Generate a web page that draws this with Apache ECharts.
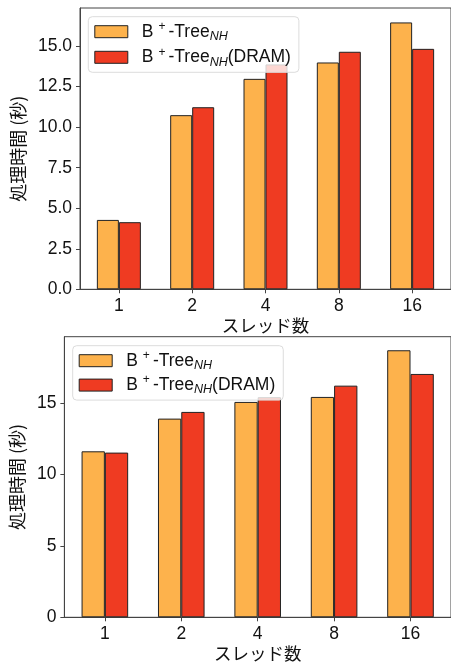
<!DOCTYPE html>
<html>
<head>
<meta charset="utf-8">
<script src="https://cdn.jsdelivr.net/npm/echarts@6/dist/echarts.min.js"></script>
<style>
html,body{margin:0;padding:0;background:#fff;}
#main{width:451px;height:664px;}
</style>
</head>
<body>
<div id="main"></div>
<script>
// ---- data ----
const categories = ['1', '2', '4', '8', '16'];
const seriesNames = ['B+-Tree_NH', 'B+-Tree_NH(DRAM)'];
const topNH = [4.28, 10.74, 12.98, 13.99, 16.46];
const topDRAM = [4.14, 11.23, 13.87, 14.65, 14.83];
const bottomNH = [11.63, 13.92, 15.09, 15.44, 18.71];
const bottomDRAM = [11.54, 14.39, 15.42, 16.23, 17.05];
const topYTicks = [0, 2.5, 5, 7.5, 10, 12.5, 15];
const bottomYTicks = [0, 5, 10, 15];
const yTitle = '処理時間 (秒)';
const xTitle = 'スレッド数';

const FONT = '"Liberation Sans", "Noto Sans CJK JP", sans-serif';
const CJK = '"Noto Sans CJK JP", sans-serif';
const ORANGE = '#FDB24C';
const RED = '#EF3B22';
const EDGE = '#222';
const SPINE = '#444';
const catIdx = categories.map((c, i) => i);

function pairs(vals) { return vals.map((v, i) => [i, v]); }

const rich = {
  n: {fontFamily: FONT, fontSize: 17.5, color: '#111', lineHeight: 22},
  sup: {fontFamily: FONT, fontSize: 12, color: '#111', lineHeight: 12, verticalAlign: 'top', padding: [0, 3, 0, 5]},
  sub: {fontFamily: FONT, fontSize: 12.5, fontStyle: 'italic', color: '#111', lineHeight: 12, verticalAlign: 'bottom'}
};
function legendFmt(name) {
  if (name === seriesNames[0]) return '{n|B}{sup|+}{n|-Tree}{sub|NH}';
  return '{n|B}{sup|+}{n|-Tree}{sub|NH}{n|(DRAM)}';
}

function xAxisFor(gi) {
  return {
    type: 'value', gridIndex: gi, min: -0.53, max: 4.53,
    name: xTitle, nameLocation: 'middle', nameGap: 27,
    nameTextStyle: {fontFamily: CJK, fontSize: 17.5, color: '#111'},
    axisLine: {show: true, onZero: false, lineStyle: {color: SPINE, width: 1}},
    axisTick: {show: true, length: 4, customValues: catIdx, lineStyle: {color: SPINE}},
    axisLabel: {customValues: catIdx, margin: 8, fontFamily: FONT, fontSize: 17.5, color: '#111',
      formatter: v => categories[Math.round(v)]},
    splitLine: {show: false}
  };
}
function yAxisFor(gi, max, ticks, dec, gap) {
  return {
    type: 'value', gridIndex: gi, min: 0, max: max,
    name: yTitle, nameLocation: 'middle', nameGap: gap,
    nameTextStyle: {fontFamily: CJK, fontSize: 18, color: '#111'},
    axisLine: {show: true, onZero: false, lineStyle: {color: SPINE, width: 1}},
    axisTick: {show: true, length: 4, customValues: ticks, lineStyle: {color: SPINE}},
    axisLabel: {customValues: ticks, margin: 8, fontFamily: FONT, fontSize: 17.5, color: '#111',
      formatter: v => v.toFixed(dec)},
    splitLine: {show: false}
  };
}
function barSeries(name, data, color, xi, yi, w) {
  return {
    type: 'bar', name: name, xAxisIndex: xi, yAxisIndex: yi,
    data: pairs(data), barWidth: w, barGap: '0%',
    itemStyle: {color: color, borderColor: EDGE, borderWidth: 1},
    emphasis: {disabled: true}, animation: false
  };
}
function legendFor(left, top, gap) {
  return {
    orient: 'vertical', left: left, top: top,
    data: seriesNames.map(n => ({name: n, icon: 'rect'})),
    icon: 'rect',
    itemWidth: 33, itemHeight: 12, itemGap: gap,
    itemStyle: {borderColor: EDGE, borderWidth: 1},
    padding: [4, 8, 4, 6],
    backgroundColor: 'rgba(255,255,255,0.8)',
    borderColor: '#dcdcdc', borderWidth: 1, borderRadius: 4,
    formatter: legendFmt,
    textStyle: {rich: rich, padding: [0, 0, 0, 9]},
    selectedMode: false
  };
}

const chart = echarts.init(document.getElementById('main'), null, {renderer: 'canvas'});
chart.setOption({
  animation: false,
  backgroundColor: '#fff',
  grid: [
    {left: 80, top: 8, width: 374.4, height: 281.3, show: true, borderColor: SPINE, borderWidth: 1, backgroundColor: 'transparent'},
    {left: 63.3, top: 336.7, width: 391, height: 280.6, show: true, borderColor: SPINE, borderWidth: 1, backgroundColor: 'transparent'}
  ],
  xAxis: [xAxisFor(0), xAxisFor(1)],
  yAxis: [yAxisFor(0, 17.35, topYTicks, 1, 51), yAxisFor(1, 19.66, bottomYTicks, 0, 34)],
  legend: [legendFor(88.3, 16.7, 3.6), legendFor(72.7, 345.7, 2.4)],
  series: [
    barSeries(seriesNames[0], topNH, ORANGE, 0, 0, 22),
    barSeries(seriesNames[1], topDRAM, RED, 0, 0, 22),
    barSeries(seriesNames[0], bottomNH, ORANGE, 1, 1, 23.3),
    barSeries(seriesNames[1], bottomDRAM, RED, 1, 1, 23.3)
  ]
});
</script>
</body>
</html>
